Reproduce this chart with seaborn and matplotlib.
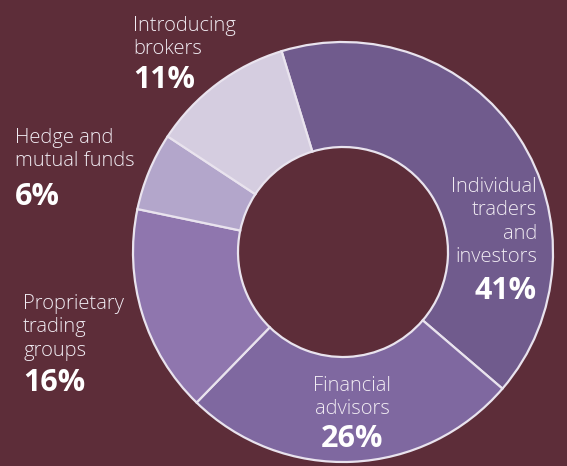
import matplotlib
matplotlib.use("Agg")
import matplotlib.pyplot as plt
import seaborn as sns

# ---- data ----
categories = ["Individual\ntraders\nand\ninvestors", "Financial\nadvisors",
              "Proprietary\ntrading\ngroups", "Hedge and\nmutual funds",
              "Introducing\nbrokers"]
shares = [41, 26, 16, 6, 11]
pct_labels = ["41%", "26%", "16%", "6%", "11%"]
slice_colors = ["#705b8d", "#7f68a0", "#8f76ae", "#b3a6cb", "#d5cde0"]

# label layout (pixel positions: x, first-line baseline, pct baseline, align)
label_pos = [
    (537, 192, 299, "right"),
    (352, 391, 447, "center"),
    (23, 309, 391, "left"),
    (15, 143, 205, "left"),
    (133, 31, 88, "left"),
]
LINE_STEP = 23.3

BG = "#5d2d39"
W, H = 567, 466
CX, CY, R = 343, 252, 210

sns.set_theme(style="white")
plt.rcParams["font.family"] = ["Open Sans", "DejaVu Sans"]

fig = plt.figure(figsize=(W / 100, H / 100), dpi=100, facecolor=BG)
ax = fig.add_axes([0, 0, 1, 1])
ax.set_facecolor(BG)

ax.pie(shares, colors=slice_colors, startangle=107, counterclock=False,
       radius=1.0,
       wedgeprops=dict(width=0.5, edgecolor="#e9e3ee", linewidth=1.6))

ax.set_xlim(-CX / R, (W - CX) / R)
ax.set_ylim(-(H - CY) / R, CY / R)
ax.set_aspect("auto")
ax.axis("off")

for name, pct, (px, by, pby, ha) in zip(categories, pct_labels, label_pos):
    for i, line in enumerate(name.split("\n")):
        fig.text(px / W, 1 - (by + i * LINE_STEP) / H, line, ha=ha,
                 va="baseline", fontsize=14.5, fontweight="light",
                 color="#f1ecf3")
    fig.text(px / W, 1 - pby / H, pct, ha=ha, va="baseline",
             fontsize=22, fontweight="bold", color="#ffffff")

fig.savefig("out.png", dpi=100, facecolor=BG)
